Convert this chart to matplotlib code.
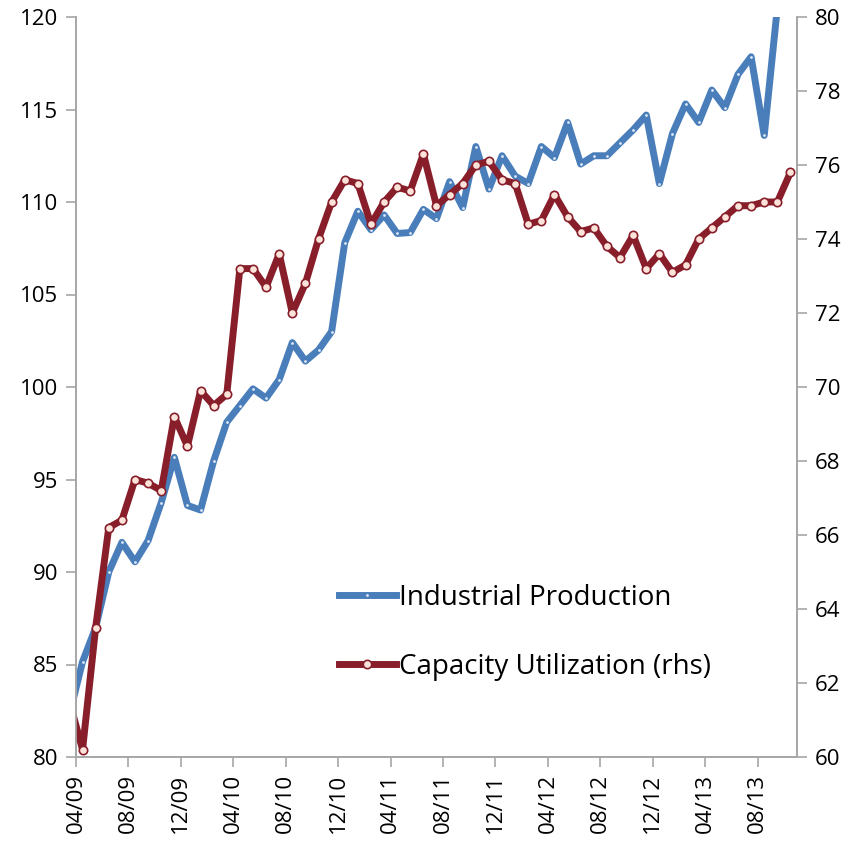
import matplotlib
matplotlib.use("Agg")
import matplotlib.pyplot as plt
import numpy as np

# monthly data, first value is 03/09 (partly outside the axis), last is 10/13
industrial_production = [82.3, 85.15, 87.0, 90.0, 91.6, 90.55, 91.7, 93.75, 96.2, 93.6,
                         93.35, 96.0, 98.1, 99.0, 99.9, 99.4, 100.4, 102.4, 101.4, 102.0,
                         103.0, 107.8, 109.5, 108.5, 109.3, 108.3, 108.35, 109.6, 109.1, 111.1,
                         109.7, 113.0, 110.7, 112.5, 111.4, 111.0, 113.0, 112.4, 114.3, 112.05,
                         112.5, 112.5, 113.2, 113.9, 114.7, 111.0, 113.7, 115.3, 114.3, 116.05,
                         115.1, 116.9, 117.85, 113.6, 120.5]
capacity_utilization = [61.5, 60.2, 63.5, 66.2, 66.4, 67.5, 67.4, 67.2, 69.2, 68.4,
                        69.9, 69.5, 69.8, 73.2, 73.2, 72.7, 73.6, 72.0, 72.8, 74.0,
                        75.0, 75.6, 75.5, 74.4, 75.0, 75.4, 75.3, 76.3, 74.9, 75.2,
                        75.5, 76.0, 76.1, 75.6, 75.5, 74.4, 74.5, 75.2, 74.6, 74.2,
                        74.3, 73.8, 73.5, 74.1, 73.2, 73.6, 73.1, 73.3, 74.0, 74.3,
                        74.6, 74.9, 74.9, 75.0, 75.0, 75.8]
tick_labels = ["04/09", "08/09", "12/09", "04/10", "08/10", "12/10", "04/11",
               "08/11", "12/11", "04/12", "08/12", "12/12", "04/13", "08/13"]

blue = "#4A7EBB"
red = "#891E2B"
grey = "#A6A6A6"

plt.rcParams['font.family'] = ['Open Sans', 'DejaVu Sans']

fig = plt.figure(figsize=(8.53, 8.42), dpi=100)
ax = fig.add_axes([76/853, 1-757/842, (797-76)/853, (757-17)/842])
ax2 = ax.twinx()

# points sit in the middle of each month, ticks at month starts
x_ip = np.arange(len(industrial_production)) - 0.5
x_cu = np.arange(len(capacity_utilization)) - 0.5

ax.plot(x_ip, industrial_production, color=blue, lw=5, solid_joinstyle='round',
        marker='o', ms=2, mfc='#DDE8F5', mec='none', label='Industrial Production')
ax2.plot(x_cu, capacity_utilization, color=red, lw=5, solid_joinstyle='round',
         marker='o', ms=6, mfc='#FBE3DA', mec=red, mew=1.2, label='Capacity Utilization (rhs)')

ax.set_xlim(0, 55)
ax.set_ylim(80, 120)
ax2.set_ylim(60, 80)
ax.set_yticks(np.arange(80, 121, 5))
ax2.set_yticks(np.arange(60, 81, 2))
ax.set_xticks(np.arange(0, 4*len(tick_labels), 4))
ax.set_xticklabels(tick_labels, rotation=90)

for a in (ax, ax2):
    a.spines['top'].set_visible(False)
    for s in ('left', 'right', 'bottom'):
        a.spines[s].set_color(grey)
        a.spines[s].set_linewidth(1.2)
    a.tick_params(direction='out', length=7, width=1.2, color=grey,
                  labelsize=16, labelcolor='black', pad=6)
ax.tick_params(axis='x', pad=5)

h1, l1 = ax.get_legend_handles_labels()
h2, l2 = ax2.get_legend_handles_labels()
leg = ax2.legend(h1 + h2, l1 + l2, loc='upper left', frameon=False, fontsize=20,
                 handlelength=2.05, handletextpad=0.1, labelspacing=1.46,
                 bbox_to_anchor=(314/853, 1-559/842), bbox_transform=fig.transFigure)

fig.savefig("out.png", dpi=100)
